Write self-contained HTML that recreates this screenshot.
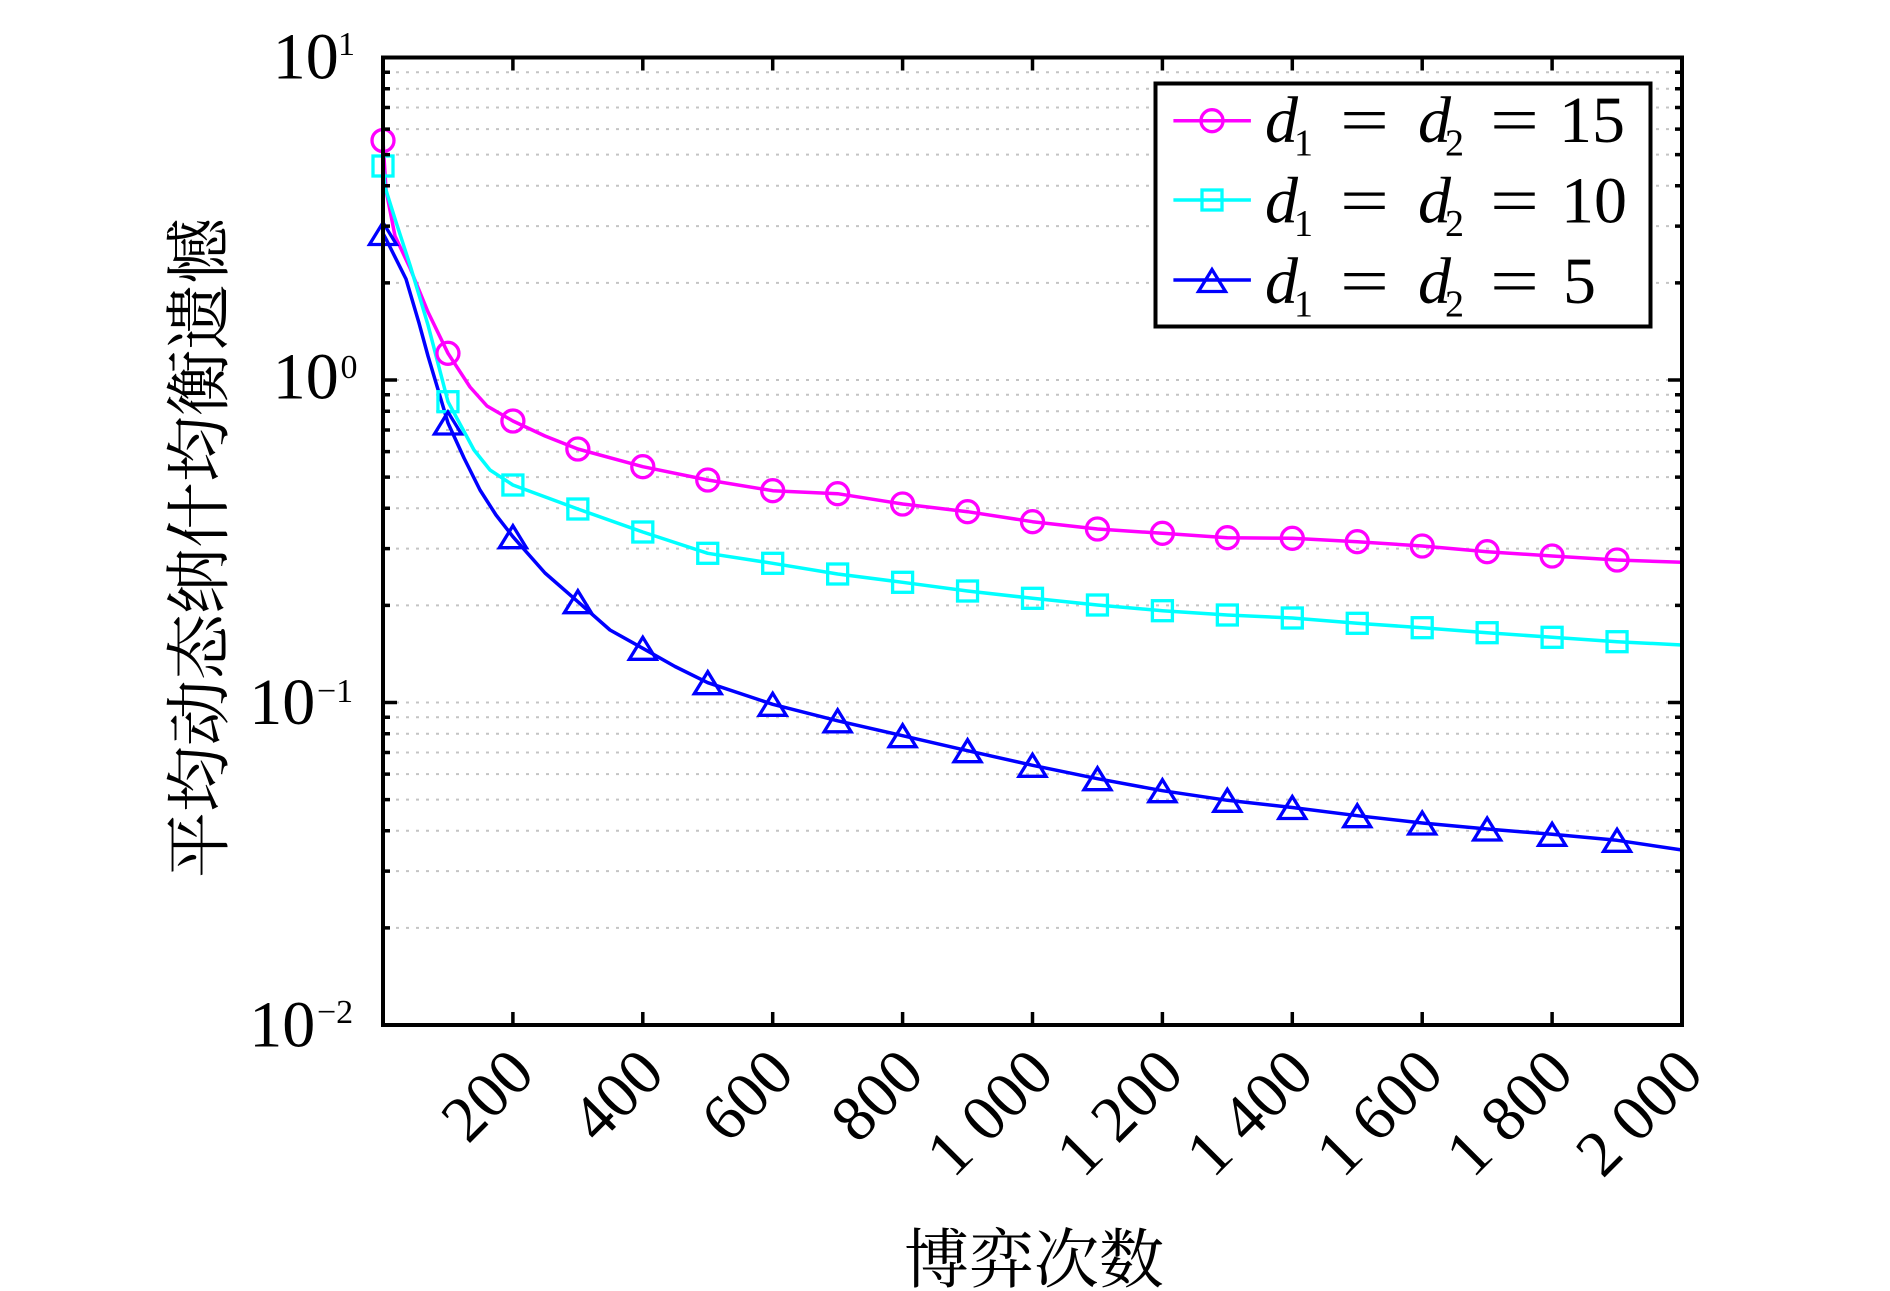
<!DOCTYPE html>
<html><head><meta charset="utf-8"><style>
html,body{margin:0;padding:0;background:#fff;}
svg{display:block;}
text{font-family:"Liberation Serif","Noto Serif CJK SC",serif;fill:#000;}
.cjk{font-family:"Liberation Serif","Noto Serif CJK SC","Noto Sans CJK SC",serif;}
</style></head><body>
<svg width="1890" height="1291" viewBox="0 0 1890 1291" xmlns="http://www.w3.org/2000/svg">
<rect width="1890" height="1291" fill="#fff"/>
<!-- grid -->
<g stroke="#c4c4c4" stroke-width="2" stroke-dasharray="3,7" fill="none">
<path d="M386 72.3H1680M386 88.8H1680M386 107.5H1680M386 129.1H1680M386 154.6H1680M386 185.8H1680M386 226.1H1680M386 282.9H1680M386 380H1680
M386 394.8H1680M386 411.3H1680M386 430H1680M386 451.6H1680M386 477.1H1680M386 508.3H1680M386 548.6H1680M386 605.4H1680M386 702.5H1680
M386 717.3H1680M386 733.8H1680M386 752.5H1680M386 774.1H1680M386 799.6H1680M386 830.8H1680M386 871.1H1680M386 927.9H1680"/>
</g>
<!-- series lines -->
<g fill="none" stroke-width="3.5" stroke-linejoin="round" stroke-linecap="round">
<polyline stroke="#ff00ff" points="383,140.5 386,190 395,236 410,268 428,312 448,353.3 470,387 487,406 512.9,421 545,436 577.85,449 642.8,466.7 707.75,480 772.7,490.7 837.65,493.7 902.6,504 967.55,511.7 1032.5,521.7 1097.45,529 1162.4,533.3 1227.35,537.7 1292.3,538.3 1357.25,541.7 1422.2,546 1487.15,551.7 1552.1,556 1617.05,560 1682,562.3"/>
<polyline stroke="#00ffff" points="383,166 385,187 396,222 410,265 428,325 448,401.7 474,450 490,470 512.9,485 577.85,509 642.8,532 707.75,553.3 772.7,563.3 837.65,574 902.6,582.3 967.55,591 1032.5,598.3 1097.45,605 1162.4,610.7 1227.35,615 1292.3,618 1357.25,623.3 1422.2,627.7 1487.15,632.7 1552.1,637.3 1617.05,641.7 1682,645"/>
<polyline stroke="#0000ff" points="383,233.5 387,241 392,251 406,279 419,323 428,356 448,423 464,458 480,490 496,515 512.9,536.7 545,573 577.85,601.7 610,630 642.8,648.3 675,666.5 707.75,682.7 772.7,704.3 837.65,720.8 902.6,735.7 967.55,750.7 1032.5,765.3 1097.45,778.7 1162.4,790.7 1227.35,800.3 1292.3,807.5 1357.25,815.7 1422.2,823 1487.15,829 1552.1,834.3 1617.05,840.3 1682,850"/>
</g>
<!-- markers -->
<g fill="none" stroke="#ff00ff" stroke-width="3.3">
<circle cx="383" cy="140.5" r="11"/><circle cx="447.95" cy="353.3" r="11"/><circle cx="512.9" cy="421" r="11"/><circle cx="577.85" cy="449" r="11"/><circle cx="642.8" cy="466.7" r="11"/><circle cx="707.75" cy="480" r="11"/><circle cx="772.7" cy="490.7" r="11"/><circle cx="837.65" cy="493.7" r="11"/><circle cx="902.6" cy="504" r="11"/><circle cx="967.55" cy="511.7" r="11"/><circle cx="1032.5" cy="521.7" r="11"/><circle cx="1097.45" cy="529" r="11"/><circle cx="1162.4" cy="533.3" r="11"/><circle cx="1227.35" cy="537.7" r="11"/><circle cx="1292.3" cy="538.3" r="11"/><circle cx="1357.25" cy="541.7" r="11"/><circle cx="1422.2" cy="546" r="11"/><circle cx="1487.15" cy="551.7" r="11"/><circle cx="1552.1" cy="556" r="11"/><circle cx="1617.05" cy="560" r="11"/>
</g>
<g fill="none" stroke="#00ffff" stroke-width="3.3">
<rect x="373" y="156" width="20" height="20"/><rect x="437.95" y="391.7" width="20" height="20"/><rect x="502.9" y="475" width="20" height="20"/><rect x="567.85" y="499" width="20" height="20"/><rect x="632.8" y="522" width="20" height="20"/><rect x="697.75" y="543.3" width="20" height="20"/><rect x="762.7" y="553.3" width="20" height="20"/><rect x="827.65" y="564" width="20" height="20"/><rect x="892.6" y="572.3" width="20" height="20"/><rect x="957.55" y="581" width="20" height="20"/><rect x="1022.5" y="588.3" width="20" height="20"/><rect x="1087.45" y="595" width="20" height="20"/><rect x="1152.4" y="600.7" width="20" height="20"/><rect x="1217.35" y="605" width="20" height="20"/><rect x="1282.3" y="608" width="20" height="20"/><rect x="1347.25" y="613.3" width="20" height="20"/><rect x="1412.2" y="617.7" width="20" height="20"/><rect x="1477.15" y="622.7" width="20" height="20"/><rect x="1542.1" y="627.3" width="20" height="20"/><rect x="1607.05" y="631.7" width="20" height="20"/>
</g>
<g fill="none" stroke="#0000ff" stroke-width="3.3" stroke-linejoin="miter">
<polygon points="383,222.5 369.5,244.5 396.5,244.5"/>
<polygon points="447.95,412 434.45,434 461.45,434"/>
<polygon points="512.9,525.7 499.4,547.7 526.4,547.7"/>
<polygon points="577.85,590.7 564.35,612.7 591.35,612.7"/>
<polygon points="642.8,637.3 629.3,659.3 656.3,659.3"/>
<polygon points="707.75,671.7 694.25,693.7 721.25,693.7"/>
<polygon points="772.7,693.3 759.2,715.3 786.2,715.3"/>
<polygon points="837.65,709.8 824.15,731.8 851.15,731.8"/>
<polygon points="902.6,724.7 889.1,746.7 916.1,746.7"/>
<polygon points="967.55,739.7 954.05,761.7 981.05,761.7"/>
<polygon points="1032.5,754.3 1019,776.3 1046,776.3"/>
<polygon points="1097.45,767.7 1083.95,789.7 1110.95,789.7"/>
<polygon points="1162.4,779.7 1148.9,801.7 1175.9,801.7"/>
<polygon points="1227.35,789.3 1213.85,811.3 1240.85,811.3"/>
<polygon points="1292.3,796.5 1278.8,818.5 1305.8,818.5"/>
<polygon points="1357.25,804.7 1343.75,826.7 1370.75,826.7"/>
<polygon points="1422.2,812 1408.7,834 1435.7,834"/>
<polygon points="1487.15,818 1473.65,840 1500.65,840"/>
<polygon points="1552.1,823.3 1538.6,845.3 1565.6,845.3"/>
<polygon points="1617.05,829.3 1603.55,851.3 1630.55,851.3"/>
</g>
<!-- ticks -->
<g stroke="#000" stroke-width="3.5" fill="none">
<path d="M383 380h14M383 702.5h14M1682 380h-14M1682 702.5h-14"/>
<path d="M383 72.3h7M383 88.8h7M383 107.5h7M383 129.1h7M383 154.6h7M383 185.8h7M383 226.1h7M383 282.9h7
M383 394.8h7M383 411.3h7M383 430h7M383 451.6h7M383 477.1h7M383 508.3h7M383 548.6h7M383 605.4h7
M383 717.3h7M383 733.8h7M383 752.5h7M383 774.1h7M383 799.6h7M383 830.8h7M383 871.1h7M383 927.9h7
M1682 72.3h-7M1682 88.8h-7M1682 107.5h-7M1682 129.1h-7M1682 154.6h-7M1682 185.8h-7M1682 226.1h-7M1682 282.9h-7
M1682 394.8h-7M1682 411.3h-7M1682 430h-7M1682 451.6h-7M1682 477.1h-7M1682 508.3h-7M1682 548.6h-7M1682 605.4h-7
M1682 717.3h-7M1682 733.8h-7M1682 752.5h-7M1682 774.1h-7M1682 799.6h-7M1682 830.8h-7M1682 871.1h-7M1682 927.9h-7"/>
<path d="M512.9 1025v-13M642.8 1025v-13M772.7 1025v-13M902.6 1025v-13M1032.5 1025v-13M1162.4 1025v-13M1292.3 1025v-13M1422.2 1025v-13M1552.1 1025v-13
M512.9 57.5v13M642.8 57.5v13M772.7 57.5v13M902.6 57.5v13M1032.5 57.5v13M1162.4 57.5v13M1292.3 57.5v13M1422.2 57.5v13M1552.1 57.5v13"/>
</g>
<rect x="383" y="57.5" width="1299" height="967.5" fill="none" stroke="#000" stroke-width="4"/>
<!-- legend -->
<rect x="1155.5" y="83.5" width="495" height="243" fill="#fff" stroke="#000" stroke-width="4"/>
<g stroke-width="3.5" fill="none">
<line x1="1173.4" y1="120.7" x2="1250.9" y2="120.7" stroke="#ff00ff"/>
<circle cx="1212" cy="120.7" r="11" stroke="#ff00ff" stroke-width="3.3"/>
<line x1="1173.4" y1="200" x2="1250.9" y2="200" stroke="#00ffff"/>
<rect x="1202" y="190" width="20" height="20" stroke="#00ffff" stroke-width="3.3"/>
<line x1="1173.4" y1="280" x2="1250.9" y2="280" stroke="#0000ff"/>
<polygon points="1212,269.5 1198.5,291.5 1225.5,291.5" stroke="#0000ff" stroke-width="3.3"/>
</g>
<g font-size="66">
<text x="1265" y="142" font-style="italic">d</text><text x="1294" y="155.5" font-size="38">1</text>
<text x="1340" y="142" textLength="49" lengthAdjust="spacingAndGlyphs">=</text>
<text x="1418" y="142" font-style="italic">d</text><text x="1445" y="155.5" font-size="38">2</text>
<text x="1490" y="142" textLength="49" lengthAdjust="spacingAndGlyphs">=</text>
<text x="1559" y="142">15</text>

<text x="1265" y="222.5" font-style="italic">d</text><text x="1294" y="236" font-size="38">1</text>
<text x="1340" y="222.5" textLength="49" lengthAdjust="spacingAndGlyphs">=</text>
<text x="1418" y="222.5" font-style="italic">d</text><text x="1445" y="236" font-size="38">2</text>
<text x="1490" y="222.5" textLength="49" lengthAdjust="spacingAndGlyphs">=</text>
<text x="1561" y="222.5">10</text>

<text x="1265" y="303" font-style="italic">d</text><text x="1294" y="316.5" font-size="38">1</text>
<text x="1340" y="303" textLength="49" lengthAdjust="spacingAndGlyphs">=</text>
<text x="1418" y="303" font-style="italic">d</text><text x="1445" y="316.5" font-size="38">2</text>
<text x="1490" y="303" textLength="49" lengthAdjust="spacingAndGlyphs">=</text>
<text x="1563" y="303">5</text>
</g>
<!-- y tick labels -->
<g font-size="66">
<text x="338.7" y="78.3" text-anchor="end">10</text><text x="338" y="55" font-size="34">1</text>
<text x="338.7" y="398.3" text-anchor="end">10</text><text x="340.5" y="378" font-size="34">0</text>
<text x="315.3" y="724" text-anchor="end">10</text><text x="317" y="702" font-size="34">−1</text>
<text x="315.3" y="1046.7" text-anchor="end">10</text><text x="317" y="1023" font-size="34">−2</text>
</g>
<!-- x tick labels -->
<g font-size="65" text-anchor="end">
<text x="537" y="1076" transform="rotate(-45 537 1076)">200</text>
<text x="666.8" y="1076" transform="rotate(-45 666.8 1076)">400</text>
<text x="796.7" y="1076" transform="rotate(-45 796.7 1076)">600</text>
<text x="926.6" y="1076" transform="rotate(-45 926.6 1076)">800</text>
<text x="1056.5" y="1076" transform="rotate(-45 1056.5 1076)">1 000</text>
<text x="1186.4" y="1076" transform="rotate(-45 1186.4 1076)">1 200</text>
<text x="1316.3" y="1076" transform="rotate(-45 1316.3 1076)">1 400</text>
<text x="1446.2" y="1076" transform="rotate(-45 1446.2 1076)">1 600</text>
<text x="1576.1" y="1076" transform="rotate(-45 1576.1 1076)">1 800</text>
<text x="1706" y="1076" transform="rotate(-45 1706 1076)">2 000</text>
</g>
<!-- axis labels -->
<text class="cjk" x="1034" y="1282" font-size="65" text-anchor="middle">博弈次数</text>
<text class="cjk" x="222" y="548" font-size="66" text-anchor="middle" transform="rotate(-90 222 548)">平均动态纳什均衡遗憾</text>
</svg>
</body></html>
